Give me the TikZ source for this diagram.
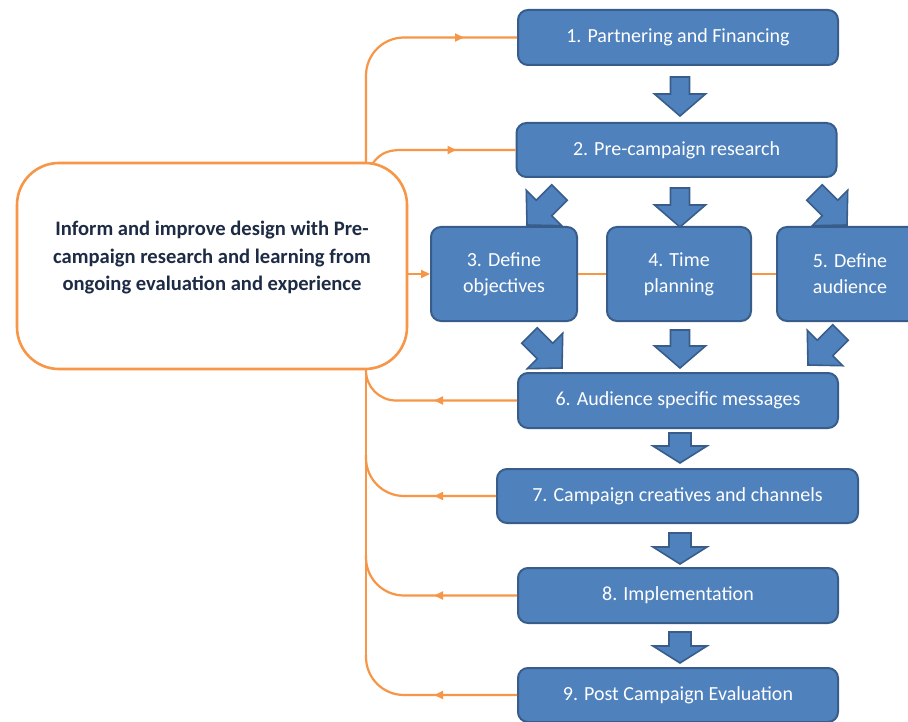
\documentclass[tikz,border=0pt]{standalone}
\usepackage{fontspec}
\setmainfont{Carlito}
\usetikzlibrary{arrows.meta,decorations.markings}
\definecolor{boxblue}{HTML}{4F81BD}
\definecolor{boxedge}{HTML}{385D8A}
\definecolor{lineorange}{HTML}{F79646}
\definecolor{navytext}{HTML}{1E2B45}
\begin{document}
\begin{tikzpicture}[x=1pt,y=-1pt,
  stepbox/.style={draw=boxedge, fill=boxblue, line width=2pt, rounded corners=10pt,
    text=white, font=\fontsize{20}{26}\selectfont, align=center, inner sep=0pt},
  bigbox/.style={draw=lineorange, fill=white, line width=2.6pt, rounded corners=42pt,
    minimum width=390pt, minimum height=206pt, inner sep=0pt},
  bigtext/.style={text=navytext, font=\bfseries\fontsize{20.6}{27.5}\selectfont, align=center, inner sep=0pt},
  oline/.style={color=lineorange, line width=2.2pt},
  midarrow/.style={postaction={decorate}, decoration={markings,
    mark=at position #1 with {\arrow[color=lineorange]{Triangle[length=9pt,width=8pt]}}}},
  blockarrow/.style={draw=boxedge, fill=boxblue, line width=1.6pt, line join=miter},
  pics/barrow/.style args={#1/#2/#3/#4}{code={
    \path[blockarrow] ({-#3/2},{-#1}) -- ({#3/2},{-#1}) -- ({#3/2},{-#4}) -- ({#2/2},{-#4})
      -- (0,0) -- ({-#2/2},{-#4}) -- ({-#3/2},{-#4}) -- cycle;}}
]
\clip (0,0) rectangle (908,722);
\fill[white] (0,0) rectangle (908,722);

% left box
\node[bigbox] (big) at (212,266) {};
\node[bigtext] (bigtxt) at (212,258) {Inform and improve design with Pre-\\campaign research and learning from\\ongoing evaluation and experience};

% step boxes
\node[stepbox, minimum width=320pt, minimum height=55pt] (b1) at (678,37.5) {1. Partnering and Financing};
\node[stepbox, minimum width=320pt, minimum height=54pt] (b2) at (676.5,150) {2. Pre-campaign research};
\node[stepbox, minimum width=146pt, minimum height=94pt] (b3) at (504,274) {3. Define\\objectives};
\node[stepbox, minimum width=144pt, minimum height=94pt] (b4) at (679,274) {4. Time\\planning};
\node[stepbox, minimum width=146pt, minimum height=94pt] (b5) at (850,274) {5. Define\\audience};
\node[stepbox, minimum width=320pt, minimum height=55pt] (b6) at (678,400.5) {6. Audience specific messages};
\node[stepbox, minimum width=361pt, minimum height=54pt] (b7) at (677.5,496) {7. Campaign creatives and channels};
\node[stepbox, minimum width=320pt, minimum height=55pt] (b8) at (678,595.5) {8. Implementation};
\node[stepbox, minimum width=320pt, minimum height=54pt] (b9) at (678,695) {9. Post Campaign Evaluation};

% junction coordinates on the trunk
\coordinate (jtop) at (366,163);
\coordinate (j2) at (373,163);
\coordinate (jb) at (366,369);
\coordinate (j7) at (366,455);
\coordinate (j8) at (366,555);
\coordinate (j9) at (366,655);

% orange connectors
\draw[oline, rounded corners=38pt, midarrow=-53pt] (jtop) |- (b1.west);
\draw[oline, midarrow=-59pt] (j2) .. controls (381,152) and (390,150) .. (402,150) -- (b2.west);
\draw[oline, -{Triangle[length=9pt,width=8pt]}] (big.east |- b3.west) -- (b3.west);
\draw[oline] (b3.east) -- (b4.west);
\draw[oline] (b4.east) -- (b5.west);
\draw[oline] (jb) -- (j9);
\draw[oline, rounded corners=30pt, midarrow=83pt] (b6.west) -| (jb);
\draw[oline, rounded corners=38pt, midarrow=62pt] (b7.west) -| (j7);
\draw[oline, rounded corners=38pt, midarrow=83pt] (b8.west) -| (j8);
\draw[oline, rounded corners=38pt, midarrow=83pt] (b9.west) -| (j9);

% block arrows
\path (680,116) pic {barrow=39/51/19/22};
\path (680,227) pic {barrow=39/51/19/22};
\path (680,368) pic {barrow=38/51/19/22};
\path (680,463) pic {barrow=30/54/22/17};
\path (680,564) pic {barrow=31/54/22/17};
\path (680,663) pic {barrow=31/54/22/17};
\path (527,225) pic[rotate=-45] {barrow=46/50/22/24};
\path (847,225) pic[rotate=45] {barrow=46/50/22/24};
\path (562,368) pic[rotate=45] {barrow=46/50/22/24};
\path (808,365) pic[rotate=-45] {barrow=46/50/22/24};
\end{tikzpicture}
\end{document}
